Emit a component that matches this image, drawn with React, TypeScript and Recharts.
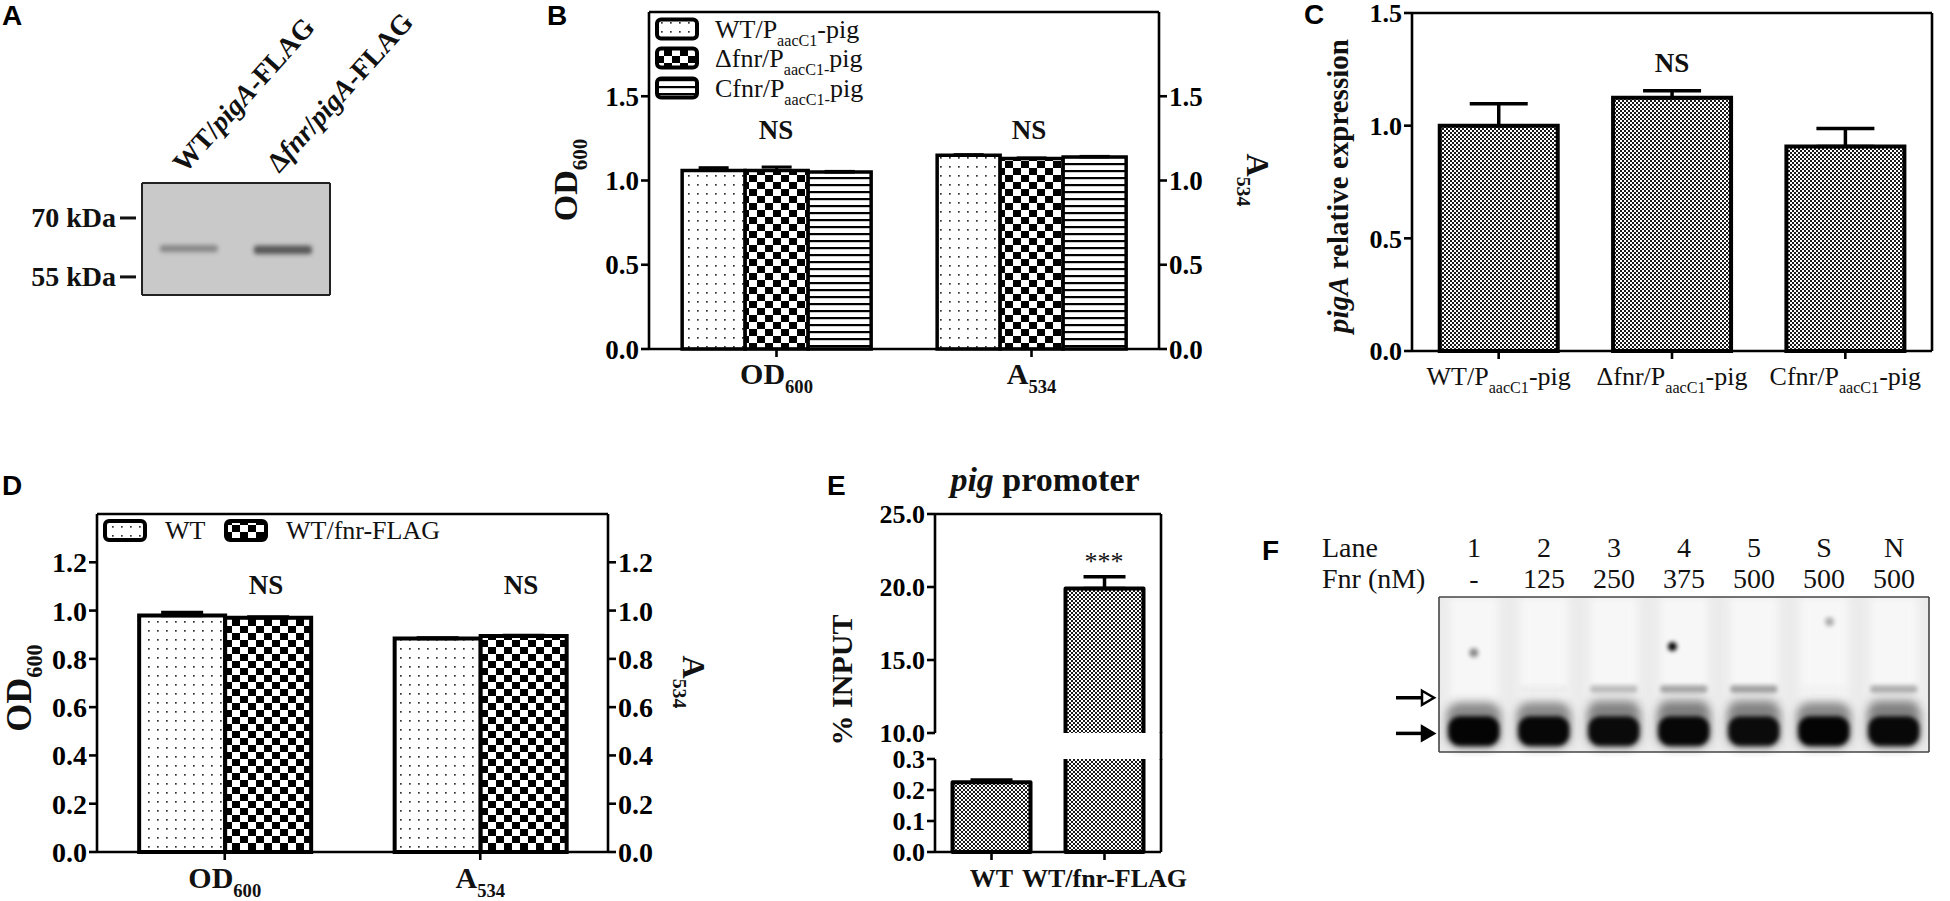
import React from 'react';
import { BarChart, Bar, XAxis, YAxis, ErrorBar, ReferenceLine, ReferenceArea } from 'recharts';

const SERIF = '"Liberation Serif", "Times New Roman", serif';
const SANS = '"Liberation Sans", Arial, sans-serif';
const INK = '#111';

// A: western blot
const blotLanes = ['WT/pigA-FLAG', 'Δfnr/pigA-FLAG'];
const blotBandLow = [61.3, 60.8];
const blotBandHigh = [63.1, 63.0];
const blotSignal = [0.4, 0.7];
const blotMarkers = [55, 70];
const blotTarget = [62];

// B: growth / pigment, three strains
const bMeasures = ['OD600', 'A534'];
const bSeries = ['WT/PaacC1-pig', 'Δfnr/PaacC1-pig', 'Cfnr/PaacC1-pig'];
const bWT = [1.06, 1.15];
const bWTErr = [0.016, 0.003];
const bFnr = [1.06, 1.13];
const bFnrErr = [0.02, 0.004];
const bCfnr = [1.05, 1.14];
const bCfnrErr = [0.004, 0.003];
const bTicks = [0, 0.5, 1, 1.5];

// C: pigA expression
const cStrains = ['WT/PaacC1-pig', 'Δfnr/PaacC1-pig', 'Cfnr/PaacC1-pig'];
const cExpr = [1.0, 1.124, 0.907];
const cErr = [0.097, 0.031, 0.08];
const cTicks = [0, 0.5, 1, 1.5];

// D: growth / pigment, two strains
const dMeasures = ['OD600', 'A534'];
const dSeries = ['WT', 'WT/fnr-FLAG'];
const dWT = [0.98, 0.884];
const dWTErr = [0.012, 0.002];
const dFnr = [0.97, 0.895];
const dFnrErr = [0.003, 0.002];
const dTicks = [0, 0.2, 0.4, 0.6, 0.8, 1.0, 1.2];

// E: ChIP, % input
const eStrains = ['WT', 'WT/fnr-FLAG'];
const eInput = [0.225, 19.9];
const eErr = [0.007, 0.8];
const eUpperTicks = [10, 15, 20, 25];
const eLowerTicks = [0, 0.1, 0.2, 0.3];

// F: EMSA gel
const gelLanes = ['1', '2', '3', '4', '5', 'S', 'N'];
const gelFnr = ['-', '125', '250', '375', '500', '500', '500'];
const gelFree = [0.97, 0.95, 0.93, 0.95, 0.92, 0.97, 0.94];
const gelComplex = [0, 0.05, 0.32, 0.45, 0.48, 0.02, 0.4];
const gelSmear = [0.06, 0.1, 0.3, 0.34, 0.32, 0.08, 0.32];
const gelSpeck = [0.45, 0, 0, 1, 0, 0.3, 0];
const gelSpeckAt = [64, 0, 0, 68, 0, 84, 0];
const gelSpeckX = [0.5, 0.5, 0.5, 0.3, 0.5, 0.6, 0.5];
const gelMarkers = [12, 35];

type Part = { t: string; sub?: boolean; it?: boolean };

const TICK_PARTS: Record<string, Part[]> = {
  OD600: [{ t: 'OD' }, { t: '600', sub: true }],
  A534: [{ t: 'A' }, { t: '534', sub: true }],
  'WT/PaacC1-pig': [{ t: 'WT/P' }, { t: 'aacC1', sub: true }, { t: '-pig' }],
  'Δfnr/PaacC1-pig': [{ t: 'Δfnr/P' }, { t: 'aacC1', sub: true }, { t: '-pig' }],
  'Cfnr/PaacC1-pig': [{ t: 'Cfnr/P' }, { t: 'aacC1', sub: true }, { t: '-pig' }],
  'WT/pigA-FLAG': [{ t: 'WT/' }, { t: 'pigA', it: true }, { t: '-FLAG' }],
  'Δfnr/pigA-FLAG': [{ t: 'Δ' }, { t: 'fnr', it: true }, { t: '/' }, { t: 'pigA', it: true }, { t: '-FLAG' }],
};

const LEGEND_PARTS: Record<string, Part[]> = {
  'WT/PaacC1-pig': [{ t: 'WT/P' }, { t: 'aacC1', sub: true }, { t: '-pig' }],
  'Δfnr/PaacC1-pig': [{ t: 'Δfnr/P' }, { t: 'aacC1-', sub: true }, { t: 'pig' }],
  'Cfnr/PaacC1-pig': [{ t: 'Cfnr/P' }, { t: 'aacC1-', sub: true }, { t: 'pig' }],
};

const bFills = ['url(#dots)', 'url(#checker)', 'url(#hstripes)'];
const dFills = ['url(#dots)', 'url(#checker)'];

const axisLine = { stroke: '#000', strokeWidth: 2.6 };
const numTick = (size: number) => ({ fontFamily: SERIF, fontSize: size, fontWeight: 700, fill: '#000' });
const fmt1 = (v: number) => v.toFixed(1);

function Rich({ x, y, parts, size, bold = false, anchor = 'middle', angle = 0, family = SERIF }: any) {
  let shift = 0;
  const kids = parts.map((p: Part, i: number) => {
    const target = p.sub ? Math.round(size * 0.3) : 0;
    const dy = target - shift;
    shift = target;
    return (
      <tspan key={i} dy={dy} fontSize={p.sub ? size * 0.62 : size} fontStyle={p.it ? 'italic' : 'normal'}>
        {p.t}
      </tspan>
    );
  });
  return (
    <text
      x={x}
      y={y}
      textAnchor={anchor}
      fontFamily={family}
      fontSize={size}
      fontWeight={bold ? 700 : 400}
      fill={INK}
      transform={angle ? `rotate(${angle}, ${x}, ${y})` : undefined}
    >
      {kids}
    </text>
  );
}

function CatTick({ x, y, payload, size, bold, dy }: any) {
  const parts = TICK_PARTS[payload.value] ?? [{ t: String(payload.value) }];
  return <Rich x={x} y={y + dy} parts={parts} size={size} bold={bold} />;
}

function PatternDefs() {
  return (
    <svg width={0} height={0} style={{ position: 'absolute' }}>
      <defs>
        <pattern id="dots" width={9} height={9} patternUnits="userSpaceOnUse">
          <rect width={9} height={9} fill="#fff" />
          <rect x={4} y={4} width={1.7} height={1.7} fill="#333" />
        </pattern>
        <pattern id="checker" width={16} height={14} patternUnits="userSpaceOnUse">
          <rect width={16} height={14} fill="#fff" />
          <rect width={8} height={7} fill="#000" />
          <rect x={8} y={7} width={8} height={7} fill="#000" />
        </pattern>
        <pattern id="hstripes" width={10} height={7} patternUnits="userSpaceOnUse">
          <rect width={10} height={7} fill="#fff" />
          <rect y={2} width={10} height={2.2} fill="#000" />
        </pattern>
        <pattern id="fine" width={4} height={4} patternUnits="userSpaceOnUse">
          <rect width={4} height={4} fill="#fff" />
          <rect width={2} height={2} fill="#1a1a1a" />
          <rect x={2} y={2} width={2} height={2} fill="#1a1a1a" />
        </pattern>
        <filter id="soft2" x="-40%" y="-80%" width="180%" height="260%">
          <feGaussianBlur stdDeviation={2} />
        </filter>
        <filter id="soft4" x="-40%" y="-60%" width="180%" height="220%">
          <feGaussianBlur stdDeviation={4} />
        </filter>
      </defs>
    </svg>
  );
}

// ---------- A ----------
function BlotBand({ x, y, width, height, payload }: any) {
  if (!height) return null;
  return <rect x={x} y={y} width={width} height={height} rx={3} fill="#2a2a2a" opacity={payload.signal} filter="url(#soft2)" />;
}

function MarkerTick({ x, y, payload }: any) {
  return (
    <g>
      <text x={x - 26} y={y + 9} textAnchor="end" fontFamily={SERIF} fontWeight={700} fontSize={28} fill={INK}>
        {`${payload.value} kDa`}
      </text>
      <line x1={x - 22} x2={x - 6} y1={y} y2={y} stroke={INK} strokeWidth={3} />
    </g>
  );
}

function TargetTick({ x, y }: any) {
  return (
    <g>
      <line x1={x + 7} x2={x + 20} y1={y} y2={y} stroke={INK} strokeWidth={3} />
      <text x={x + 23} y={y + 10} fontFamily={SERIF} fontWeight={700} fontSize={29} fill={INK}>
        PigA-FLAG
      </text>
    </g>
  );
}

function LaneLabel({ x, y, payload }: any) {
  return <Rich x={x - 4} y={y - 9} parts={TICK_PARTS[payload.value]} size={28} bold anchor="start" angle={-48} />;
}

function PanelA() {
  const data = blotLanes.map((lane, i) => ({ lane, band: [blotBandLow[i], blotBandHigh[i]], signal: blotSignal[i] }));
  const blotLine = { stroke: '#222', strokeWidth: 2 };
  return (
    <div style={{ position: 'absolute', left: 0, top: 0 }}>
      <BarChart width={520} height={300} data={data} margin={{ top: 0, right: 0, bottom: 3, left: 0 }} barCategoryGap="19%">
        <XAxis xAxisId="t" dataKey="lane" orientation="top" height={183} interval={0} axisLine={blotLine} tickLine={false} tickSize={0} tickMargin={0} tick={(p: any) => <LaneLabel {...p} />} />
        <XAxis xAxisId="b" dataKey="lane" height={2} tick={false} tickLine={false} axisLine={blotLine} />
        <YAxis yAxisId="l" domain={[50.4, 78.9]} ticks={blotMarkers} interval={0} width={142} axisLine={blotLine} tickLine={false} tickSize={0} tickMargin={0} tick={(p: any) => <MarkerTick {...p} />} />
        <YAxis yAxisId="r" orientation="right" domain={[50.4, 78.9]} ticks={blotTarget} interval={0} width={190} axisLine={blotLine} tickLine={false} tickSize={0} tickMargin={0} tick={(p: any) => <TargetTick {...p} />} />
        <ReferenceArea xAxisId="t" yAxisId="l" y1={50.4} y2={78.9} fill="#c9c9c9" fillOpacity={1} stroke="none" />
        <ReferenceLine xAxisId="t" yAxisId="r" y={62} stroke="none" />
        <Bar xAxisId="t" yAxisId="l" dataKey="band" shape={(p: any) => <BlotBand {...p} />} isAnimationActive={false} />
      </BarChart>
    </div>
  );
}

// ---------- B ----------
function PanelB() {
  const data = bMeasures.map((m, i) => ({
    m,
    wt: bWT[i], wtErr: [0, bWTErr[i]],
    fnr: bFnr[i], fnrErr: [0, bFnrErr[i]],
    cfnr: bCfnr[i], cfnrErr: [0, bCfnrErr[i]],
  }));
  const keys = ['wt', 'fnr', 'cfnr'];
  const axes = ['l', 'l', 'r'];
  return (
    <div style={{ position: 'absolute', left: 549, top: 0 }}>
      <BarChart width={720} height={400} data={data} margin={{ top: 12, right: 10, bottom: 10, left: 10 }} barGap={0} barCategoryGap="13%">
        <XAxis dataKey="m" interval={0} height={41} axisLine={axisLine} tickLine={axisLine} tickSize={8} tick={(p: any) => <CatTick {...p} size={30} bold dy={25} />} />
        <YAxis yAxisId="l" domain={[0, 2]} ticks={bTicks} interval={0} width={90} axisLine={axisLine} tickLine={axisLine} tickSize={8} tick={numTick(27)} tickFormatter={fmt1} />
        <YAxis yAxisId="r" orientation="right" domain={[0, 2]} ticks={bTicks} interval={0} width={100} axisLine={axisLine} tickLine={axisLine} tickSize={8} tick={numTick(27)} tickFormatter={fmt1} />
        <ReferenceLine yAxisId="l" y={2} stroke="#000" strokeWidth={2.6} />
        {keys.map((k, i) => (
          <Bar key={k} yAxisId={axes[i]} dataKey={k} fill={bFills[i]} stroke="#000" strokeWidth={3.5} isAnimationActive={false}>
            <ErrorBar dataKey={`${k}Err`} width={15} stroke="#000" strokeWidth={3} />
          </Bar>
        ))}
      </BarChart>
    </div>
  );
}

// ---------- C ----------
function PanelC() {
  const data = cStrains.map((s, i) => ({ s, v: cExpr[i], err: [0, cErr[i]] }));
  return (
    <div style={{ position: 'absolute', left: 1342, top: 0 }}>
      <BarChart width={604} height={400} data={data} margin={{ top: 13, right: 10, bottom: 4, left: 10 }} barCategoryGap="16%">
        <XAxis dataKey="s" interval={0} height={45} axisLine={axisLine} tickLine={axisLine} tickSize={8} tick={(p: any) => <CatTick {...p} size={26} dy={24} />} />
        <YAxis yAxisId="l" domain={[0, 1.5]} ticks={cTicks} interval={0} width={60} axisLine={axisLine} tickLine={axisLine} tickSize={8} tick={numTick(26)} tickFormatter={fmt1} />
        <YAxis yAxisId="r" orientation="right" domain={[0, 1.5]} width={4} axisLine={axisLine} tick={false} tickLine={false} />
        <ReferenceLine yAxisId="l" y={1.5} stroke="#000" strokeWidth={2.6} />
        <Bar yAxisId="l" dataKey="v" fill="url(#fine)" stroke="#000" strokeWidth={4} isAnimationActive={false}>
          <ErrorBar dataKey="err" width={29} stroke="#000" strokeWidth={3.5} />
        </Bar>
      </BarChart>
    </div>
  );
}

// ---------- D ----------
function PanelD() {
  const data = dMeasures.map((m, i) => ({
    m,
    wt: dWT[i], wtErr: [0, dWTErr[i]],
    fnr: dFnr[i], fnrErr: [0, dFnrErr[i]],
  }));
  const keys = ['wt', 'fnr'];
  const axes = ['l', 'r'];
  return (
    <div style={{ position: 'absolute', left: 0, top: 500 }}>
      <BarChart width={718} height={401} data={data} margin={{ top: 14, right: 10, bottom: 0, left: 5 }} barGap={0} barCategoryGap="16.5%">
        <XAxis dataKey="m" interval={0} height={49} axisLine={axisLine} tickLine={axisLine} tickSize={8} tick={(p: any) => <CatTick {...p} size={30} bold dy={26} />} />
        <YAxis yAxisId="l" domain={[0, 1.4]} ticks={dTicks} interval={0} width={92} axisLine={axisLine} tickLine={axisLine} tickSize={8} tick={numTick(28)} tickFormatter={fmt1} />
        <YAxis yAxisId="r" orientation="right" domain={[0, 1.4]} ticks={dTicks} interval={0} width={100} axisLine={axisLine} tickLine={axisLine} tickSize={8} tick={numTick(28)} tickFormatter={fmt1} />
        <ReferenceLine yAxisId="l" y={1.4} stroke="#000" strokeWidth={2.6} />
        {keys.map((k, i) => (
          <Bar key={k} yAxisId={axes[i]} dataKey={k} fill={dFills[i]} stroke="#000" strokeWidth={4} isAnimationActive={false}>
            <ErrorBar dataKey={`${k}Err`} width={21} stroke="#000" strokeWidth={3.5} />
          </Bar>
        ))}
      </BarChart>
    </div>
  );
}

// ---------- E ----------
function SegBar(props: any) {
  const { x, y, width, height, fill, openTop, openBottom } = props;
  if (height == null || !(height > 0)) return null;
  const l = x, r = x + width, t = y, b = y + height;
  let d = `M${l},${t}H${r}V${b}H${l}Z`;
  if (openBottom) d = `M${l},${b}V${t}H${r}V${b}`;
  if (openTop) d = `M${l},${t}V${b}H${r}V${t}`;
  return (
    <g>
      <rect x={l} y={t} width={width} height={height} fill={fill} />
      <path d={d} fill="none" stroke="#000" strokeWidth={4} strokeLinejoin="round" />
    </g>
  );
}

function PanelE() {
  const upper = eStrains.map((s, i) => ({
    s,
    v: eInput[i] >= 10 ? eInput[i] : null,
    err: eInput[i] >= 10 ? [0, eErr[i]] : null,
  }));
  const lower = eStrains.map((s, i) => ({
    s,
    v: Math.min(eInput[i], 0.3),
    capped: eInput[i] > 0.3,
    err: eInput[i] > 0.3 ? null : [0, eErr[i]],
  }));
  return (
    <>
      <div style={{ position: 'absolute', left: 835, top: 500 }}>
        <BarChart width={391} height={247} data={upper} margin={{ top: 14, right: 60, bottom: 14, left: 0 }} barCategoryGap="15.5%">
          <XAxis dataKey="s" hide />
          <YAxis yAxisId="l" domain={[10, 25]} ticks={eUpperTicks} interval={0} width={100} axisLine={axisLine} tickLine={axisLine} tickSize={8} tick={numTick(26)} tickFormatter={fmt1} />
          <YAxis yAxisId="r" orientation="right" domain={[10, 25]} width={5} axisLine={axisLine} tick={false} tickLine={false} />
          <ReferenceLine yAxisId="l" y={25} stroke="#000" strokeWidth={2.6} />
          <Bar yAxisId="l" dataKey="v" fill="url(#fine)" isAnimationActive={false} shape={(p: any) => <SegBar {...p} openBottom />}>
            <ErrorBar dataKey="err" width={21} stroke="#000" strokeWidth={3.5} />
          </Bar>
        </BarChart>
      </div>
      <div style={{ position: 'absolute', left: 835, top: 745 }}>
        <BarChart width={391} height={157} data={lower} margin={{ top: 14, right: 60, bottom: 0, left: 0 }} barCategoryGap="15.5%">
          <XAxis dataKey="s" interval={0} height={50} axisLine={axisLine} tickLine={axisLine} tickSize={8} tick={(p: any) => <CatTick {...p} size={26} bold dy={25} />} />
          <YAxis yAxisId="l" domain={[0, 0.3]} ticks={eLowerTicks} interval={0} width={100} axisLine={axisLine} tickLine={axisLine} tickSize={8} tick={numTick(26)} tickFormatter={fmt1} />
          <YAxis yAxisId="r" orientation="right" domain={[0, 0.3]} width={5} axisLine={axisLine} tick={false} tickLine={false} />
          <Bar yAxisId="l" dataKey="v" fill="url(#fine)" isAnimationActive={false} shape={(p: any) => <SegBar {...p} openTop={p.payload?.capped} />}>
            <ErrorBar dataKey="err" width={21} stroke="#000" strokeWidth={3.5} />
          </Bar>
        </BarChart>
      </div>
    </>
  );
}

// ---------- F ----------
function GelLane({ x, y, width, height, payload }: any) {
  if (!height) return null;
  const at = (u: number) => y + height * (1 - u / 100);
  return (
    <g>
      <rect x={x + 4} y={y} width={width - 8} height={height} fill="#fafafa" opacity={0.8} filter="url(#soft4)" />
      <rect x={x + 4} y={at(36)} width={width - 8} height={at(24) - at(36)} rx={6} fill="#777" opacity={payload.smear} filter="url(#soft4)" />
      <rect x={x + 5} y={at(43)} width={width - 10} height={at(38) - at(43)} rx={3} fill="#444" opacity={payload.complex} filter="url(#soft2)" />
      <rect x={x + 1} y={at(32)} width={width - 2} height={at(2) - at(32)} rx={14} fill="#333" opacity={payload.free * 0.55} filter="url(#soft4)" />
      <rect x={x + 3} y={at(23)} width={width - 6} height={at(4) - at(23)} rx={12} fill="#000" opacity={payload.free} filter="url(#soft2)" />
      {payload.speck > 0 && (
        <circle cx={x + width * payload.speckX} cy={at(payload.speckAt)} r={4.5} fill="#000" opacity={payload.speck} filter="url(#soft2)" />
      )}
    </g>
  );
}

function LaneTick({ x, y, payload }: any) {
  const style = { fontFamily: SERIF, fontSize: 28, fill: INK };
  return (
    <g>
      <text x={x} y={y - 40} textAnchor="middle" {...style}>{payload.value}</text>
      <text x={x} y={y - 9} textAnchor="middle" {...style}>{gelFnr[payload.index]}</text>
    </g>
  );
}

function ArrowTick({ x, y, payload }: any) {
  const open = payload.value !== gelMarkers[0];
  return (
    <g>
      <line x1={x - 43} x2={x - 15} y1={y} y2={y} stroke="#000" strokeWidth={3.5} />
      <path d={`M${x - 17},${y - 7}L${x - 5},${y}L${x - 17},${y + 7}Z`} fill={open ? '#fff' : '#000'} stroke="#000" strokeWidth={2.5} strokeLinejoin="miter" />
    </g>
  );
}

function PanelF() {
  const data = gelLanes.map((lane, i) => ({
    lane,
    span: [0, 100],
    free: gelFree[i],
    complex: gelComplex[i],
    smear: gelSmear[i],
    speck: gelSpeck[i],
    speckAt: gelSpeckAt[i],
    speckX: gelSpeckX[i],
  }));
  const gelLine = { stroke: '#444', strokeWidth: 1.6 };
  return (
    <div style={{ position: 'absolute', left: 1379, top: 527 }}>
      <BarChart width={556} height={231} data={data} margin={{ top: 0, right: 4, bottom: 4, left: 0 }} barCategoryGap="9%">
        <XAxis xAxisId="t" dataKey="lane" orientation="top" height={70} interval={0} axisLine={gelLine} tickLine={false} tickSize={0} tickMargin={0} tick={(p: any) => <LaneTick {...p} />} />
        <XAxis xAxisId="b" dataKey="lane" height={2} tick={false} tickLine={false} axisLine={gelLine} />
        <YAxis yAxisId="l" domain={[0, 100]} ticks={gelMarkers} interval={0} width={60} axisLine={gelLine} tickLine={false} tickSize={0} tickMargin={0} tick={(p: any) => <ArrowTick {...p} />} />
        <YAxis yAxisId="r" orientation="right" domain={[0, 100]} width={2} axisLine={gelLine} tick={false} tickLine={false} />
        <ReferenceArea xAxisId="t" yAxisId="l" y1={0} y2={100} fill="#ebebeb" fillOpacity={1} stroke="none" />
        <Bar xAxisId="t" yAxisId="l" dataKey="span" shape={(p: any) => <GelLane {...p} />} isAnimationActive={false} />
      </BarChart>
    </div>
  );
}

// ---------- titles, legends, annotations ----------
function Swatch({ x, y, fill }: any) {
  return <rect x={x} y={y} width={40} height={19} rx={4} fill={fill} stroke="#000" strokeWidth={4} />;
}

function Overlay() {
  const letter = { fontFamily: SANS, fontWeight: 700, fontSize: 28, fill: '#000' };
  const ns = { fontFamily: SERIF, fontWeight: 700, fontSize: 27, fill: INK, textAnchor: 'middle' as const };
  const bRows = [29, 58, 88];
  return (
    <svg width={1950} height={901} style={{ position: 'absolute', left: 0, top: 0, pointerEvents: 'none' }}>
      <text x={2} y={25} {...letter}>A</text>
      <text x={547} y={25} {...letter}>B</text>
      <text x={1304} y={24} {...letter}>C</text>
      <text x={2} y={495} {...letter}>D</text>
      <text x={827} y={495} {...letter}>E</text>
      <text x={1262} y={560} {...letter}>F</text>

      {/* B */}
      <Rich x={577} y={180} parts={TICK_PARTS.OD600} size={34} bold angle={-90} />
      <Rich x={1247} y={180} parts={TICK_PARTS.A534} size={32} bold angle={90} />
      {bSeries.map((s, i) => (
        <g key={s}>
          <Swatch x={657} y={bRows[i] - 9.5} fill={bFills[i]} />
          <Rich x={715} y={bRows[i] + 9} parts={LEGEND_PARTS[s]} size={26} anchor="start" />
        </g>
      ))}
      <text x={776} y={139} {...ns}>NS</text>
      <text x={1029} y={139} {...ns}>NS</text>

      {/* C */}
      <Rich x={1348} y={186} parts={[{ t: 'pigA', it: true }, { t: ' relative expression' }]} size={29} bold angle={-90} />
      <text x={1672} y={72} {...ns}>NS</text>

      {/* D */}
      <Rich x={31} y={688} parts={TICK_PARTS.OD600} size={36} bold angle={-90} />
      <Rich x={683} y={682} parts={TICK_PARTS.A534} size={32} bold angle={90} />
      {dSeries.map((s, i) => (
        <g key={s}>
          <Swatch x={[105, 226][i]} y={521} fill={dFills[i]} />
          <text x={[165, 286][i]} y={539} fontFamily={SERIF} fontSize={26} fill={INK}>{s}</text>
        </g>
      ))}
      <text x={266} y={594} {...ns}>NS</text>
      <text x={521} y={594} {...ns}>NS</text>

      {/* E */}
      <Rich x={1045} y={491} parts={[{ t: 'pig', it: true }, { t: ' promoter' }]} size={34} bold />
      <Rich x={852} y={680} parts={[{ t: '% INPUT' }]} size={30} bold angle={-90} />
      <text x={1104} y={570} textAnchor="middle" fontFamily={SERIF} fontSize={26} fill={INK}>***</text>
      <line x1={1161} x2={1161} y1={732} y2={760} stroke="#000" strokeWidth={2.6} />

      {/* F */}
      <text x={1322} y={557} fontFamily={SERIF} fontSize={28} fill={INK}>Lane</text>
      <text x={1322} y={588} fontFamily={SERIF} fontSize={28} fill={INK}>Fnr (nM)</text>
    </svg>
  );
}

export default function App() {
  return (
    <div style={{ position: 'absolute', left: 0, top: 0, width: 1950, height: 901, background: '#fff', overflow: 'hidden' }}>
      <PatternDefs />
      <PanelA />
      <PanelB />
      <PanelC />
      <PanelD />
      <PanelE />
      <PanelF />
      <Overlay />
    </div>
  );
}
